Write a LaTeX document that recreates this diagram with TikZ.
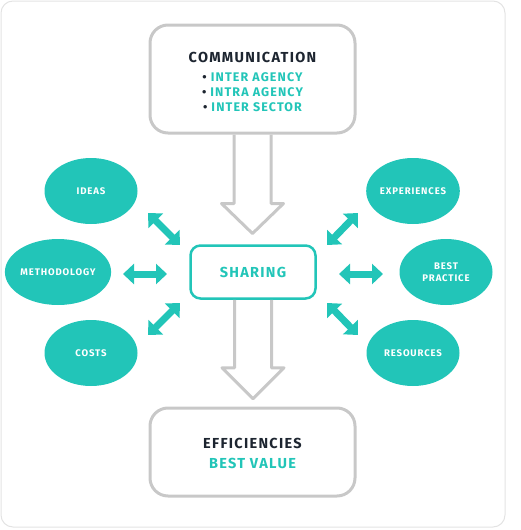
\documentclass[tikz,border=0pt]{standalone}
\usepackage{fontspec}
\setmainfont{Fira Sans}
\newfontfamily\capsfont{Fira Sans}[LetterSpace=9]
\usetikzlibrary{shapes.geometric,arrows.meta}
\definecolor{tealc}{HTML}{22C5B8}
\definecolor{darkc}{HTML}{1D2530}
\definecolor{greyc}{HTML}{C8C8C8}
\definecolor{framec}{HTML}{E3E3E3}

\begin{document}
\begin{tikzpicture}[x=1pt,y=-1pt]
            \useasboundingbox (0,0) rectangle (520,530);
            \draw[framec, line width=1pt, rounded corners=12pt] (1,1) rectangle (505,527);

            {
                \tikzset{box/.style = {shape=rectangle, draw=greyc, line width=3pt, rounded corners=18pt,
                                       minimum width=205pt, align=center, text=darkc}}
                \tikzset{blob/.style = {shape=ellipse, fill=tealc, minimum width=93pt, minimum height=66pt,
                                        inner sep=0pt, align=center, text=white,
                                        font=\capsfont\bfseries\fontsize{9.6}{12}\selectfont}}

                \node[box, minimum height=108pt, font=\capsfont\bfseries\fontsize{12.5}{15}\selectfont] (comm) at (252.5,79)
                    {\rule{0pt}{17pt}\fontsize{14.5}{15}\selectfont COMMUNICATION\\[4pt]
                     \textbullet\ \textcolor{tealc}{INTER AGENCY}\\
                     \textbullet\ \textcolor{tealc}{INTRA AGENCY}\\
                     \textbullet\ \textcolor{tealc}{INTER SECTOR}};
                \node[box, draw=tealc, text=tealc, line width=2.5pt, rounded corners=10pt,
                      minimum width=125pt, minimum height=53pt, font=\capsfont\bfseries\fontsize{14.5}{15}\selectfont]
                    (sharing) at (253,272) {SHARING};
                \node[box, minimum height=88pt, font=\capsfont\bfseries\fontsize{14.5}{20}\selectfont] (effic) at (252.5,452)
                    {\rule{0pt}{14pt}EFFICIENCIES\\ \textcolor{tealc}{BEST VALUE}};

                \node[blob] (ideas) at (91,191) {IDEAS};
                \node[blob] (method) at (58,272) {METHODOLOGY};
                \node[blob] (costs) at (91,353) {COSTS};
                \node[blob] (exper) at (413,191) {EXPERIENCES};
                \node[blob] (bestp) at (446,272) {BEST\\PRACTICE};
                \node[blob] (resrc) at (413,353) {RESOURCES};
            }

            % ends of the two-way arrows
            \coordinate (ideas-a) at (148,213);  \coordinate (ideas-b) at (180,245);
            \coordinate (method-a) at (123,274); \coordinate (method-b) at (167,274);
            \coordinate (costs-a) at (148,335);  \coordinate (costs-b) at (180,303);
            \coordinate (exper-a) at (358,213);  \coordinate (exper-b) at (327,245);
            \coordinate (bestp-a) at (383,274);  \coordinate (bestp-b) at (339,274);
            \coordinate (resrc-a) at (358,335);  \coordinate (resrc-b) at (327,303);

            \tikzset{twoway/.style = {tealc, line width=7pt,
                     {Triangle[width=20pt,length=11pt]}-{Triangle[width=20pt,length=11pt]}}}
            \tikzset{hollow/.style = {draw=greyc, line width=3pt, line join=round}}

            \draw[hollow] ([xshift=-18.5pt]comm.south) -- ++(0,69) -- ++(-12.5,0) -- ++(31,30)
                -- ++(31,-30) -- ++(-12.5,0) -- ([xshift=18.5pt]comm.south);
            \draw[hollow] ([xshift=-18.5pt]sharing.south) -- ++(0,68) -- ++(-12.5,0) -- ++(31,31)
                -- ++(31,-31) -- ++(-12.5,0) -- ([xshift=18.5pt]sharing.south);

            \draw (ideas-a) edge[twoway] (ideas-b);
            \draw (method-a) edge[twoway] (method-b);
            \draw (costs-a) edge[twoway] (costs-b);
            \draw (exper-a) edge[twoway] (exper-b);
            \draw (bestp-a) edge[twoway] (bestp-b);
            \draw (resrc-a) edge[twoway] (resrc-b);

        \end{tikzpicture}
\end{document}
